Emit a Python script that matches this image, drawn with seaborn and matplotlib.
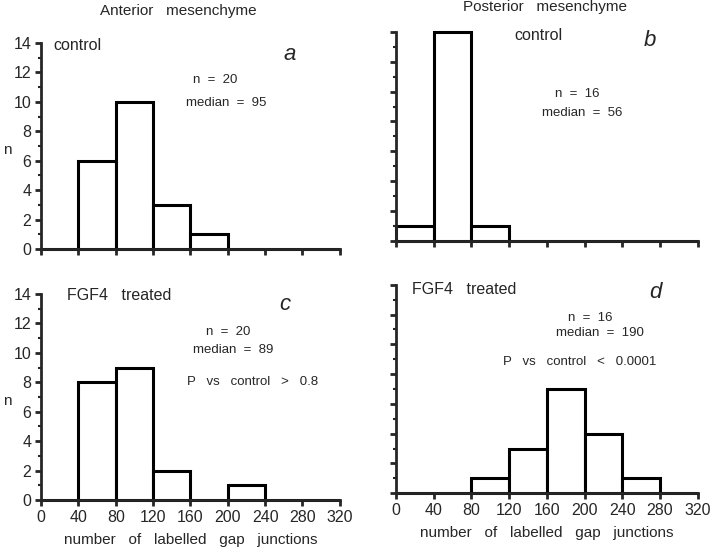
import matplotlib
matplotlib.use('Agg')
import matplotlib.pyplot as plt
import seaborn as sns
import numpy as np

# histogram data (bins of 40 gap junctions)
bin_edges = [0, 40, 80, 120, 160, 200, 240, 280, 320]
bin_mids = [20, 60, 100, 140, 180, 220, 260, 300]
ant_control = [0, 6, 10, 3, 1, 0, 0, 0]
ant_fgf4 = [0, 8, 9, 2, 0, 1, 0, 0]
post_control = [1, 14, 1, 0, 0, 0, 0, 0]
post_fgf4 = [0, 0, 1, 3, 7, 4, 1, 0]

sns.set_theme(style="ticks")
plt.rcParams['font.family'] = ['Liberation Sans', 'DejaVu Sans']

fig = plt.figure(figsize=(7.2, 5.51), dpi=100)

def panel(rect, counts, show_x, show_y):
    ax = fig.add_axes(rect)
    sns.histplot(x=bin_mids, weights=counts, bins=bin_edges, ax=ax,
                 color='white', edgecolor='black', linewidth=2.2, alpha=1)
    for p in ax.patches:
        p.set_clip_on(False)
    ax.set_xlim(0, 320)
    ax.set_ylim(0, 14)
    ax.set_xticks(bin_edges)
    ax.set_yticks(range(0, 15, 2))
    ax.set_yticks(range(1, 14, 2), minor=True)
    for s in ['top', 'right']:
        ax.spines[s].set_visible(False)
    for s in ['left', 'bottom']:
        ax.spines[s].set_linewidth(2)
    ax.tick_params(axis='both', which='major', direction='out', length=4, width=2,
                   labelsize=11.5, pad=3)
    ax.tick_params(axis='y', which='minor', direction='out', length=2, width=1.5)
    ax.set_xlabel('')
    ax.set_ylabel('')
    if not show_x:
        ax.set_xticklabels([])
    else:
        ax.set_xlabel('number   of   labelled   gap   junctions', fontsize=11, labelpad=6)
    if not show_y:
        ax.set_yticklabels([])
    return ax

ax_a = panel([0.057, 0.548, 0.415, 0.374], ant_control, False, True)
ax_b = panel([0.550, 0.563, 0.419, 0.379], post_control, False, False)
ax_c = panel([0.057, 0.0926, 0.415, 0.374], ant_fgf4, True, True)
ax_d = panel([0.550, 0.105, 0.419, 0.378], post_fgf4, True, False)

fs = 9.5
# y labels "n"
fig.text(7/720, 1 - 150/551, 'n', ha='center', va='center', fontsize=11)
fig.text(7/720, 1 - 401/551, 'n', ha='center', va='center', fontsize=11)

# panel a
fig.text(178/720, 1 - 11/551, 'Anterior   mesenchyme', ha='center', va='center', fontsize=11)
fig.text(53/720, 1 - 46/551, 'control', ha='left', va='center', fontsize=11.5)
fig.text(290/720, 1 - 55/551, 'a', ha='center', va='center', fontsize=16, style='italic')
fig.text(215/720, 1 - 80/551, 'n  =  20', ha='center', va='center', fontsize=fs)
fig.text(226/720, 1 - 103/551, 'median  =  95', ha='center', va='center', fontsize=fs)

# panel b
fig.text(545/720, 1 - 7/551, 'Posterior   mesenchyme', ha='center', va='center', fontsize=11)
fig.text(538/720, 1 - 36/551, 'control', ha='center', va='center', fontsize=11.5)
fig.text(650/720, 1 - 40/551, 'b', ha='center', va='center', fontsize=16, style='italic')
fig.text(577/720, 1 - 94/551, 'n  =  16', ha='center', va='center', fontsize=fs)
fig.text(582/720, 1 - 113/551, 'median  =  56', ha='center', va='center', fontsize=fs)

# panel c
fig.text(67/720, 1 - 295/551, 'FGF4   treated', ha='left', va='center', fontsize=11.5)
fig.text(285/720, 1 - 305/551, 'c', ha='center', va='center', fontsize=16, style='italic')
fig.text(228/720, 1 - 332/551, 'n  =  20', ha='center', va='center', fontsize=fs)
fig.text(233/720, 1 - 350/551, 'median  =  89', ha='center', va='center', fontsize=fs)
fig.text(253/720, 1 - 382/551, 'P   vs   control   >   0.8', ha='center', va='center', fontsize=fs)

# panel d
fig.text(412/720, 1 - 289/551, 'FGF4   treated', ha='left', va='center', fontsize=11.5)
fig.text(655/720, 1 - 292/551, 'd', ha='center', va='center', fontsize=16, style='italic')
fig.text(590/720, 1 - 318/551, 'n  =  16', ha='center', va='center', fontsize=fs)
fig.text(600/720, 1 - 333/551, 'median  =  190', ha='center', va='center', fontsize=fs)
fig.text(580/720, 1 - 362/551, 'P   vs   control   <   0.0001', ha='center', va='center', fontsize=fs)

fig.savefig('out.png', dpi=100)
